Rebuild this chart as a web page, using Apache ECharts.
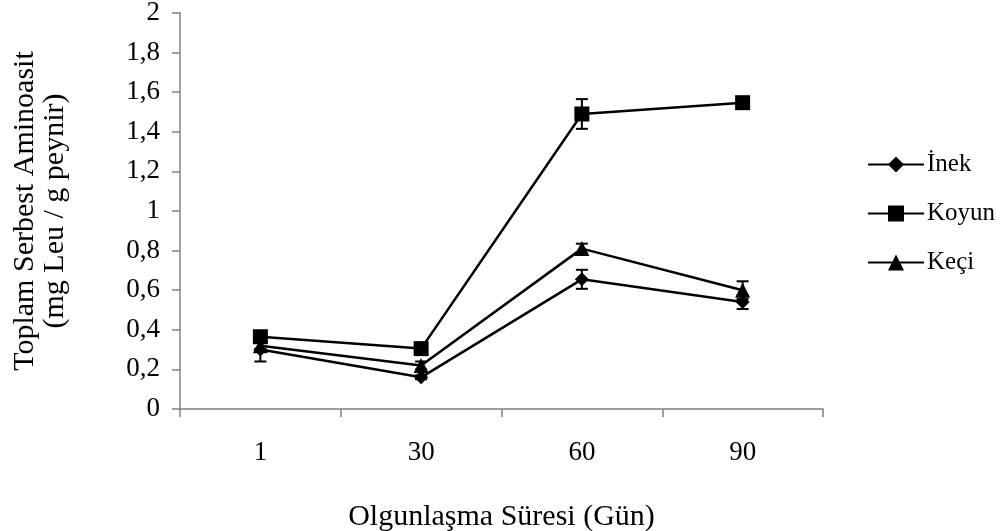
<!DOCTYPE html>
<html>
<head>
<meta charset="utf-8">
<script src="https://cdn.jsdelivr.net/npm/echarts@6/dist/echarts.min.js"></script>
<style>html,body{margin:0;padding:0;background:#fff}#c{width:1002px;height:531px}</style>
</head>
<body>
<div id="c"></div>
<script>
const categories = ['1', '30', '60', '90'];
const inek = [0.30, 0.16, 0.655, 0.54];
const inekErr = [0.06, 0.01, 0.048, 0.035];
const koyun = [0.365, 0.305, 1.49, 1.547];
const koyunErr = [0.01, 0.01, 0.075, 0.01];
const keci = [0.32, 0.22, 0.81, 0.60];
const keciErr = [0.02, 0.02, 0.025, 0.045];
const yTicks = { min: 0, max: 2, interval: 0.2 };

const FONT = '"Liberation Serif", "Times New Roman", serif';

function errSeries(vals, errs) {
  return {
    type: 'custom',
    silent: true,
    z: 1,
    data: vals.map((v, i) => [i, v - errs[i], v + errs[i]]),
    renderItem: function (params, api) {
      const lo = api.coord([api.value(0), api.value(1)]);
      const hi = api.coord([api.value(0), api.value(2)]);
      const hw = 6;
      const st = { stroke: '#000', lineWidth: 2 };
      return {
        type: 'group',
        children: [
          { type: 'line', shape: { x1: lo[0], y1: lo[1], x2: hi[0], y2: hi[1] }, style: st },
          { type: 'line', shape: { x1: lo[0] - hw, y1: lo[1], x2: lo[0] + hw, y2: lo[1] }, style: st },
          { type: 'line', shape: { x1: hi[0] - hw, y1: hi[1], x2: hi[0] + hw, y2: hi[1] }, style: st }
        ]
      };
    }
  };
}

function lineSeries(name, vals, symbol, size) {
  return {
    name: name,
    type: 'line',
    data: vals,
    symbol: symbol,
    symbolSize: size,
    z: 3,
    lineStyle: { color: '#000', width: 2.5 },
    itemStyle: { color: '#000' },
    animation: false
  };
}

const chart = echarts.init(document.getElementById('c'), null, { renderer: 'canvas' });
chart.setOption({
  animation: false,
  backgroundColor: '#fff',
  textStyle: { fontFamily: FONT, color: '#000' },
  grid: { left: 180, right: 179, top: 13, bottom: 122, containLabel: false, outerBoundsMode: 'none' },
  legend: {
    orient: 'vertical',
    left: 862,
    top: 147,
    itemGap: 24,
    itemWidth: 56,
    itemHeight: 20,
    data: ['İnek', 'Koyun', 'Keçi'],
    textStyle: { fontFamily: FONT, fontSize: 25, color: '#000', padding: [0, 0, 0, -2] }
  },
  xAxis: {
    type: 'category',
    data: categories,
    boundaryGap: true,
    axisLine: { lineStyle: { color: '#808080', width: 1.5 } },
    axisTick: { show: true, length: 8, inside: false, lineStyle: { color: '#808080', width: 1.5 } },
    axisLabel: { fontFamily: FONT, fontSize: 27, color: '#000', margin: 30 },
    name: 'Olgunlaşma Süresi (Gün)',
    nameLocation: 'middle',
    nameGap: 93,
    nameTextStyle: { fontFamily: FONT, fontSize: 30, color: '#000' },
    splitLine: { show: false }
  },
  yAxis: {
    type: 'value',
    min: yTicks.min,
    max: yTicks.max,
    interval: yTicks.interval,
    axisLine: { show: true, lineStyle: { color: '#808080', width: 1.5 } },
    axisTick: { show: true, length: 8, lineStyle: { color: '#808080', width: 1.5 } },
    axisLabel: {
      fontFamily: FONT, fontSize: 27, color: '#000', margin: 20,
      formatter: v => String(+v.toFixed(1)).replace('.', ',')
    },
    splitLine: { show: false },
    name: 'Toplam Serbest Aminoasit\n(mg Leu / g peynir)',
    nameLocation: 'middle',
    nameGap: 110,
    nameTextStyle: { fontFamily: FONT, fontSize: 30, color: '#000', lineHeight: 30 }
  },
  series: [
    lineSeries('İnek', inek, 'diamond', 14),
    lineSeries('Koyun', koyun, 'rect', 15),
    lineSeries('Keçi', keci, 'triangle', 15),
    errSeries(inek, inekErr),
    errSeries(koyun, koyunErr),
    errSeries(keci, keciErr)
  ]
});
</script>
</body>
</html>
